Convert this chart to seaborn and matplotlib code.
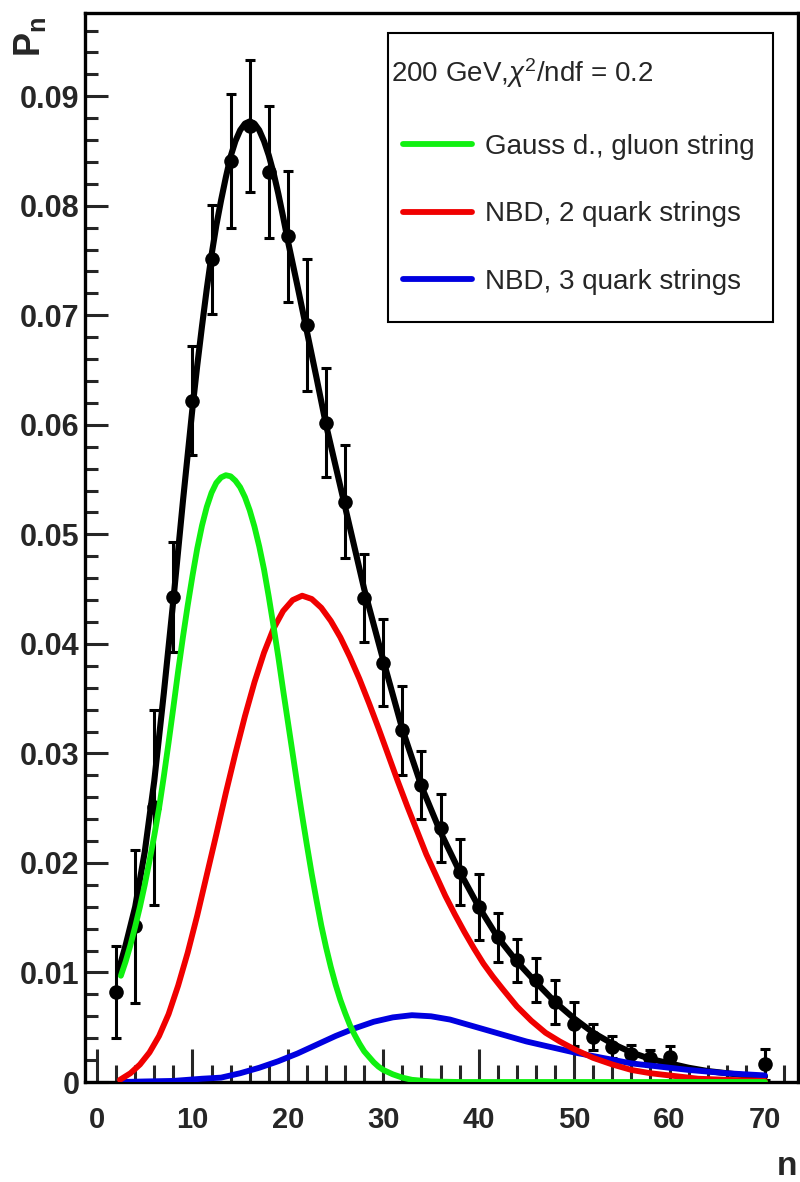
import matplotlib
matplotlib.use('Agg')
import matplotlib.pyplot as plt
import matplotlib.patches as patches
from matplotlib.ticker import MultipleLocator, FuncFormatter
import seaborn as sns

# measured multiplicity distribution, 200 GeV
n_data = [2, 4, 6, 8, 10, 12, 14, 16, 18, 20, 22, 24, 26, 28, 30, 32, 34, 36,
          38, 40, 42, 44, 46, 48, 50, 52, 54, 56, 58, 60, 70]
p_data = [0.0082, 0.0142, 0.0251, 0.0443, 0.0622, 0.0751, 0.0841, 0.0873,
          0.0831, 0.0772, 0.0691, 0.0602, 0.0530, 0.0442, 0.0383, 0.0321,
          0.0271, 0.0232, 0.0192, 0.0160, 0.0132, 0.0111, 0.0093, 0.0073,
          0.0053, 0.0041, 0.0032, 0.0026, 0.0022, 0.0023, 0.0016]
p_err = [0.0042, 0.0070, 0.0089, 0.0050, 0.0050, 0.0050, 0.0061, 0.0060,
         0.0060, 0.0060, 0.0060, 0.0050, 0.0052, 0.0040, 0.0040, 0.0041,
         0.0031, 0.0031, 0.0030, 0.0030, 0.0022, 0.0020, 0.0020, 0.0020,
         0.0020, 0.0012, 0.0010, 0.0008, 0.0007, 0.0010, 0.0014]

# total fit (black)
fit_n = [2.2, 3, 4, 5, 6, 7, 8, 9, 10, 10.5, 11, 11.5, 12, 12.5, 13, 13.5, 14,
         14.5, 15, 15.5, 16, 16.5, 17, 17.5, 18, 18.5, 19, 19.5, 20, 21, 22,
         23, 24, 26, 28, 30, 32, 34, 36, 38, 40, 42, 44, 46, 48, 50, 52, 54,
         56, 58, 60, 62, 64, 66, 68, 70]
fit_p = [0.0100, 0.0125, 0.0160, 0.0210, 0.0275, 0.0355, 0.0440, 0.0530,
         0.0615, 0.0654, 0.0690, 0.0724, 0.0755, 0.0782, 0.0805, 0.0826,
         0.0845, 0.0859, 0.0869, 0.0875, 0.0877, 0.0875, 0.0869, 0.0859,
         0.0846, 0.0830, 0.0811, 0.0790, 0.0768, 0.0727, 0.0685, 0.0643,
         0.0600, 0.0525, 0.0450, 0.0385, 0.0322, 0.0270, 0.0228, 0.0192,
         0.0160, 0.0132, 0.0110, 0.0091, 0.0073, 0.0058, 0.0045, 0.0035,
         0.0027, 0.0021, 0.0017, 0.0013, 0.0010, 0.0008, 0.0006, 0.0005]

# Gauss distribution, gluon string (green)
gauss_n = [2.5, 3.0, 3.5, 4.0, 4.5, 5.0, 5.5, 6.0, 6.5, 7.0, 7.5, 8.0, 8.5,
           9.0, 9.5, 10.0, 10.5, 11.0, 11.5, 12.0, 12.5, 13.0, 13.5, 14.0,
           14.5, 15.0, 15.5, 16.0, 16.5, 17.0, 17.5, 18.0, 18.5, 19.0, 19.5,
           20.0, 20.5, 21.0, 21.5, 22.0, 22.5, 23.0, 23.5, 24.0, 24.5, 25.0,
           25.5, 26.0, 26.5, 27.0, 27.5, 28.0, 28.5, 29.0, 29.5, 30.0, 31.0,
           32.0, 33.0, 35.0, 38.0, 70.0]
gauss_p = [0.0097, 0.0110, 0.0125, 0.0142, 0.0160, 0.0180, 0.0202, 0.0225,
           0.0250, 0.0279, 0.0310, 0.0342, 0.0375, 0.0406, 0.0435, 0.0462,
           0.0487, 0.0508, 0.0525, 0.0538, 0.0547, 0.0552, 0.0554, 0.0553,
           0.0549, 0.0543, 0.0534, 0.0522, 0.0507, 0.0489, 0.0468, 0.0443,
           0.0416, 0.0388, 0.0358, 0.0329, 0.0300, 0.0271, 0.0243, 0.0216,
           0.0190, 0.0166, 0.0143, 0.0123, 0.0105, 0.0089, 0.0075, 0.0063,
           0.0052, 0.0043, 0.0035, 0.0028, 0.0023, 0.0018, 0.0014, 0.0011,
           0.0007, 0.0004, 0.0002, 0.00005, 0.0, 0.0]

# NBD, 2 quark strings (red)
nbd2_n = [2.4, 3.5, 4.5, 5.5, 6.5, 7.5, 8.5, 9.5, 10.5, 11.5, 12.5, 13.5,
          14.5, 15.5, 16.5, 17.5, 18.5, 19.5, 20.5, 21.5, 22.5, 23.5, 24.5,
          25.5, 26.5, 27.5, 28.5, 29.5, 30.5, 31.5, 32.5, 33.5, 34.5, 35.5,
          36.5, 37.5, 38.5, 39.5, 40.5, 41.5, 42.5, 44, 45.5, 47, 48.5, 50,
          52, 54, 56, 58, 60, 63, 66, 70]
nbd2_p = [0.0002, 0.0008, 0.0016, 0.0027, 0.0042, 0.0062, 0.0088, 0.0118,
          0.0152, 0.0189, 0.0226, 0.0264, 0.0300, 0.0334, 0.0365, 0.0392,
          0.0414, 0.0430, 0.0440, 0.0444, 0.0441, 0.0433, 0.0421, 0.0406,
          0.0388, 0.0368, 0.0346, 0.0323, 0.0299, 0.0275, 0.0252, 0.0230,
          0.0208, 0.0189, 0.0170, 0.0153, 0.0137, 0.0122, 0.0108, 0.0096,
          0.0085, 0.0069, 0.0056, 0.0045, 0.0037, 0.0030, 0.0022, 0.0016,
          0.0011, 0.0008, 0.0006, 0.0003, 0.0002, 0.0001]

# NBD, 3 quark strings (blue)
nbd3_n = [2.5, 5, 8, 11, 13, 15, 17, 19, 21, 23, 25, 27, 29, 31, 33, 35, 37,
          39, 41, 43, 45, 47, 50, 53, 56, 59, 62, 66, 70]
nbd3_p = [0.0, 0.00005, 0.0001, 0.0003, 0.0004, 0.0008, 0.0013, 0.0019,
          0.0026, 0.0034, 0.0042, 0.0049, 0.0055, 0.0059, 0.0061, 0.0060,
          0.0057, 0.0052, 0.0047, 0.0042, 0.0037, 0.0033, 0.0027, 0.0022,
          0.0017, 0.0014, 0.0011, 0.0008, 0.0006]

labels = ['Gauss d., gluon string', 'NBD, 2 quark strings', 'NBD, 3 quark strings']

sns.set_style('ticks')
plt.rcParams['font.family'] = ['Liberation Sans', 'DejaVu Sans']
plt.rcParams['mathtext.fontset'] = 'custom'
plt.rcParams['mathtext.rm'] = 'Liberation Sans'
plt.rcParams['mathtext.it'] = 'Liberation Sans:italic'
plt.rcParams['mathtext.bf'] = 'Liberation Sans:bold'

fig = plt.figure(figsize=(8, 11.82), dpi=100)
ax = fig.add_axes([0.10625, 0.0846, 0.89125, 0.9044])

# data + total fit
ax.errorbar(n_data, p_data, yerr=p_err, fmt='none', ecolor='black',
            elinewidth=2.2, capsize=3.5, capthick=2.2, zorder=2)
sns.scatterplot(x=n_data, y=p_data, ax=ax, color='black', s=110,
                edgecolor='black', linewidth=0, zorder=3)
sns.lineplot(x=fit_n, y=fit_p, ax=ax, color='black', lw=4.4,
             estimator=None, sort=False, zorder=2.5)

# components
sns.lineplot(x=nbd3_n, y=nbd3_p, ax=ax, color='#0000e0', lw=4.2,
             estimator=None, sort=False, zorder=4)
blue_line = ax.lines[-1]
sns.lineplot(x=nbd2_n, y=nbd2_p, ax=ax, color='#f00000', lw=4.2,
             estimator=None, sort=False, zorder=5)
red_line = ax.lines[-1]
sns.lineplot(x=gauss_n, y=gauss_p, ax=ax, color='#10f010', lw=4.2,
             estimator=None, sort=False, zorder=6)
green_line = ax.lines[-1]
for ln in ax.lines:
    ln.set_solid_joinstyle('round')

ax.set_xlim(-1.26, 73.46)
ax.set_ylim(0, 0.0976)

ax.xaxis.set_major_locator(MultipleLocator(10))
ax.xaxis.set_minor_locator(MultipleLocator(2))
ax.yaxis.set_major_locator(MultipleLocator(0.01))
ax.yaxis.set_minor_locator(MultipleLocator(0.002))
ax.yaxis.set_major_formatter(FuncFormatter(lambda v, p: '0' if abs(v) < 1e-9 else f'{v:.2f}'))

ax.tick_params(axis='x', which='major', direction='in', length=24, width=2.2,
               labelsize=21, pad=17)
ax.tick_params(axis='x', which='minor', direction='in', length=12, width=2.2)
ax.tick_params(axis='y', which='major', direction='in', length=16.5, width=2.2,
               labelsize=22, pad=4)
ax.tick_params(axis='y', which='minor', direction='in', length=9, width=2.2)
for lab in ax.get_xticklabels() + ax.get_yticklabels():
    lab.set_fontweight('bold')
for sp in ax.spines.values():
    sp.set_linewidth(2.4)
    sp.set_color('black')

ax.set_xlabel('n', fontsize=24, fontweight='bold')
ax.xaxis.set_label_coords(0.9846, -0.0795)
ax.xaxis.label.set_ha('center')
ax.xaxis.label.set_va('center')

ax.set_ylabel(r'$\mathbf{P_n}$', fontsize=26)
ax.yaxis.set_label_coords(-0.077, 0.997)
ax.yaxis.label.set_rotation_mode('default')
ax.yaxis.label.set_ha('center')
ax.yaxis.label.set_va('top')

# legend box
ax.add_patch(patches.Rectangle((0.425, 0.711), 0.54, 0.2703, transform=ax.transAxes,
                               fill=False, lw=1.5, ec='black', zorder=7))
ax.text(0.429, 0.944, r'200 GeV,$\chi^{2}$/ndf = 0.2', transform=ax.transAxes,
        ha='left', va='center', fontsize=20)
ax.legend(handles=[green_line, red_line, blue_line], labels=labels,
          loc='upper left', bbox_to_anchor=(0.446, 0.887), frameon=False,
          borderpad=0, borderaxespad=0, handlelength=2.48, handletextpad=0.47,
          labelspacing=1.5, fontsize=20)

fig.savefig('out.png', dpi=100)
